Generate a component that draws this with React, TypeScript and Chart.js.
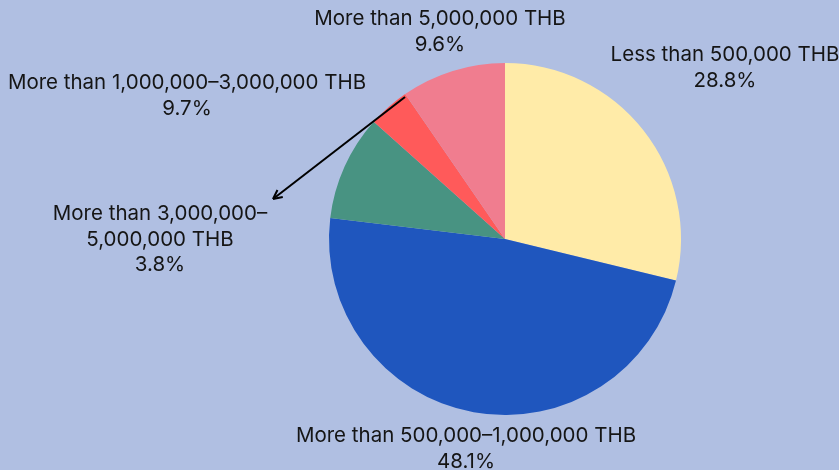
import React, { useEffect, useRef } from "react";
import { Chart, registerables } from "chart.js";

Chart.register(...registerables);

const categories = [
  "Less than 500,000 THB",
  "More than 500,000–1,000,000 THB",
  "More than 1,000,000–3,000,000 THB",
  "More than 3,000,000–5,000,000 THB",
  "More than 5,000,000 THB",
];
const values = [28.8, 48.1, 9.7, 3.8, 9.6];
const colors = ["#FFEBA8", "#1F56BE", "#489382", "#FF5A5A", "#F07D8F"];

// label lines per slice and label anchor offsets (relative to pie centre, px)
const labelLines = [
  ["Less than 500,000 THB", "28.8%"],
  ["More than 500,000–1,000,000 THB", "48.1%"],
  ["More than 1,000,000–3,000,000 THB", "9.7%"],
  ["More than 3,000,000–", "5,000,000 THB", "3.8%"],
  ["More than 5,000,000 THB", "9.6%"],
];
const labelOffsets = [
  [220, -184],
  [-39, 197],
  [-318, -156],
  [-345, -25],
  [-65, -220],
];

const BG = "#B0BFE2";
const FONT = "Inter, 'Open Sans', sans-serif";

const labelPlugin = {
  id: "pieLabels",
  afterDraw(chart: any) {
    const ctx = chart.ctx;
    const arc = chart.getDatasetMeta(0).data[0];
    if (!arc) return;
    const cx = arc.x;
    const cy = arc.y;
    ctx.save();
    ctx.fillStyle = "#151515";
    ctx.font = `20.5px ${FONT}`;
    ctx.textAlign = "center";
    ctx.textBaseline = "middle";
    const lh = 25.5;
    labelLines.forEach((lines, i) => {
      const [ox, oy] = labelOffsets[i];
      lines.forEach((t, j) => {
        ctx.fillText(t, cx + ox, cy + oy + j * lh);
      });
    });
    // arrow from red slice to its label
    const x1 = cx - 100, y1 = cy - 142;
    const x2 = cx - 232, y2 = cy - 40;
    ctx.strokeStyle = "#000";
    ctx.lineWidth = 2;
    ctx.beginPath();
    ctx.moveTo(x1, y1);
    ctx.lineTo(x2, y2);
    ctx.stroke();
    const ang = Math.atan2(y2 - y1, x2 - x1);
    const ah = 10;
    ctx.beginPath();
    ctx.moveTo(x2, y2);
    ctx.lineTo(x2 - ah * Math.cos(ang - 0.45), y2 - ah * Math.sin(ang - 0.45));
    ctx.moveTo(x2, y2);
    ctx.lineTo(x2 - ah * Math.cos(ang + 0.45), y2 - ah * Math.sin(ang + 0.45));
    ctx.stroke();
    ctx.restore();
  },
};

export default function App() {
  const ref = useRef<HTMLCanvasElement>(null);
  useEffect(() => {
    if (!ref.current) return;
    const chart = new Chart(ref.current, {
      type: "pie",
      data: {
        labels: categories,
        datasets: [
          {
            data: values,
            backgroundColor: colors,
            borderWidth: 0,
          },
        ],
      },
      options: {
        animation: false,
        responsive: false,
        maintainAspectRatio: false,
        layout: { padding: { left: 329, right: 158, top: 63, bottom: 55 } },
        plugins: { legend: { display: false }, tooltip: { enabled: false } },
      },
      plugins: [labelPlugin],
    });
    return () => chart.destroy();
  }, []);
  return (
    <div
      style={{
        position: "fixed",
        left: 0,
        top: 0,
        width: 839,
        height: 470,
        background: BG,
      }}
    >
      <canvas ref={ref} width={839} height={470} style={{ width: 839, height: 470 }} />
    </div>
  );
}
